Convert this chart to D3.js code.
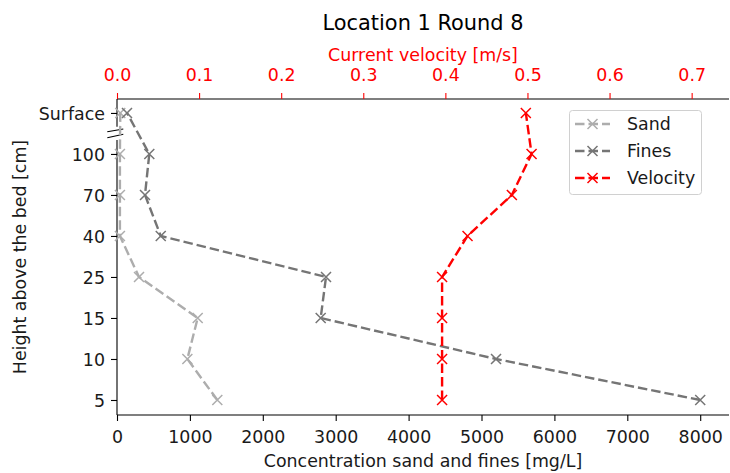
<!DOCTYPE html>
<html><head><meta charset="utf-8">
<script src="https://cdn.jsdelivr.net/npm/d3@7"></script>
<style>body{margin:0;background:#fff}text{font-family:"DejaVu Sans",sans-serif}</style>
</head><body><svg id="c" width="730" height="473"></svg>
<script>
const heights = ["5","10","15","25","40","70","100","Surface"];
const sand = [1376, 965, 1107, 302, 40, 40, 40, 45];
const fines = [8000, 5199, 2794, 2867, 600, 384, 443, 137];
const velocity = [0.396, 0.396, 0.396, 0.396, 0.427, 0.481, 0.505, 0.498];
const concTicks = [0,1000,2000,3000,4000,5000,6000,7000,8000];
const velTicks = [0,0.1,0.2,0.3,0.4,0.5,0.6,0.7];

const svg = d3.select("#c");
const L=117,R=729,T=99,B=415;
const x = d3.scaleLinear().domain([0,8395]).range([L,R]);
const xv = d3.scaleLinear().domain([0,0.7455]).range([L,R]);
const y = d3.scaleLinear().domain([-0.366,7.34]).range([B,T]);
const fs=17.4;
const tc="#1a1a1a";

// frame
svg.append("line").attr("x1",L).attr("x2",R).attr("y1",T).attr("y2",T).attr("stroke","#000").attr("stroke-width",1.1);
svg.append("line").attr("x1",L).attr("x2",R).attr("y1",B).attr("y2",B).attr("stroke","#000").attr("stroke-width",1.1);
svg.append("line").attr("x1",L).attr("x2",L).attr("y1",T).attr("y2",126.7).attr("stroke","#000").attr("stroke-width",1.1);
svg.append("line").attr("x1",L).attr("x2",L).attr("y1",140).attr("y2",B).attr("stroke","#000").attr("stroke-width",1.1);
// break marks
[[131.7,129],[137.7,134.3]].forEach(d=>{
  svg.append("line").attr("x1",107.3).attr("y1",d[0]).attr("x2",123.3).attr("y2",d[1]).attr("stroke","#000").attr("stroke-width",1.1);
});

// bottom axis
const gb = svg.append("g").attr("transform",`translate(0,${B})`)
  .call(d3.axisBottom(x).tickValues(concTicks).tickFormat(d3.format("d")).tickSize(6).tickPadding(4));
gb.select(".domain").remove();
gb.selectAll("line").attr("stroke-width",1.1);
gb.selectAll("text").attr("font-size",fs).attr("fill",tc).attr("font-family","DejaVu Sans").attr("dy",null).attr("y",null)
  .attr("transform","translate(0,28)");
// top axis (red)
const gt = svg.append("g").attr("transform",`translate(0,${T})`)
  .call(d3.axisTop(xv).tickValues(velTicks).tickFormat(d3.format(".1f")).tickSize(6).tickPadding(4));
gt.select(".domain").remove();
gt.selectAll("text").attr("font-size",fs).attr("fill","#ff0000").attr("font-family","DejaVu Sans").attr("dy",null).attr("y",null)
  .attr("transform","translate(0,-18)");
gt.selectAll("line").attr("stroke","#ff0000").attr("stroke-width",1.1);
// left axis
const gl = svg.append("g").attr("transform",`translate(${L},0)`)
  .call(d3.axisLeft(y).tickValues(d3.range(heights.length)).tickFormat(i=>heights[i]).tickSize(6).tickPadding(6));
gl.select(".domain").remove();
gl.selectAll("line").attr("stroke-width",1.1);
gl.selectAll("text").attr("font-size",fs).attr("fill",tc).attr("font-family","DejaVu Sans").attr("dy","0.36em");

// labels
svg.append("text").attr("x",423).attr("y",30).attr("text-anchor","middle").attr("font-size",20.9).attr("fill","#000").text("Location 1 Round 8");
svg.append("text").attr("x",423).attr("y",61).attr("text-anchor","middle").attr("font-size",fs).attr("fill","#ff0000").text("Current velocity [m/s]");
svg.append("text").attr("x",423).attr("y",467).attr("text-anchor","middle").attr("font-size",fs).attr("fill",tc).text("Concentration sand and fines [mg/L]");
svg.append("text").attr("transform","translate(26,257) rotate(-90)").attr("text-anchor","middle").attr("font-size",fs).attr("fill",tc).text("Height above the bed [cm]");

const series = [
  {name:"Sand", vals:sand, sx:x, color:"#adadad"},
  {name:"Fines", vals:fines, sx:x, color:"#757575"},
  {name:"Velocity", vals:velocity, sx:xv, color:"#ff0000"}
];
function cross(g,cx,cy,color){
  const r=5;
  g.append("path").attr("d",`M${cx-r},${cy-r}L${cx+r},${cy+r}M${cx-r},${cy+r}L${cx+r},${cy-r}`)
   .attr("stroke",color).attr("stroke-width",1.5).attr("fill","none");
}
series.forEach(s=>{
  const g=svg.append("g");
  const line=d3.line().x((d)=>s.sx(d)).y((d,i)=>y(i));
  g.append("path").attr("d",line(s.vals)).attr("fill","none").attr("stroke",s.color)
   .attr("stroke-width",2.4).attr("stroke-dasharray","9.5,4");
  s.vals.forEach((v,i)=>cross(g,s.sx(v),y(i),s.color));
});

// legend
const lg=svg.append("g");
lg.append("rect").attr("x",569.5).attr("y",110.5).attr("width",132).attr("height",84).attr("rx",3)
  .attr("fill","#fff").attr("fill-opacity",0.8).attr("stroke","#d0d0d0");
series.forEach((s,i)=>{
  const yy=124+i*27;
  lg.append("line").attr("x1",575).attr("x2",610).attr("y1",yy).attr("y2",yy).attr("stroke",s.color)
    .attr("stroke-width",2.4).attr("stroke-dasharray","9.5,4");
  cross(lg,592.5,yy,s.color);
  lg.append("text").attr("x",627).attr("y",yy+6.3).attr("font-size",fs).attr("fill",tc).text(s.name);
});
</script></body></html>
